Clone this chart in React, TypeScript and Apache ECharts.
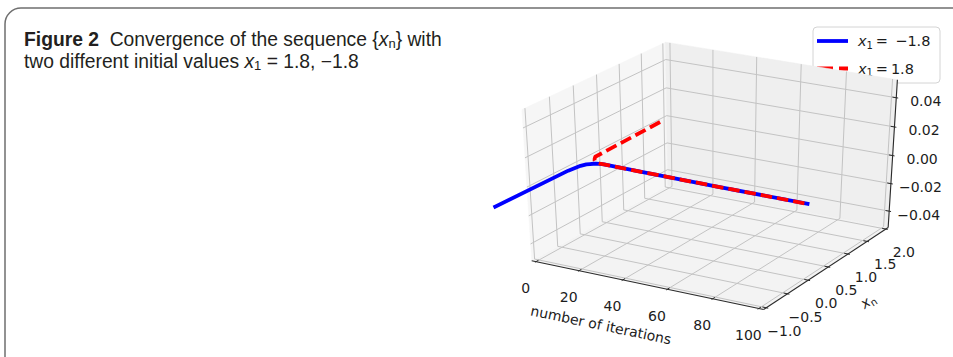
import React, { useEffect, useRef } from 'react';
import * as echarts from 'echarts';

// ---------------- data ----------------
const BLUE_ITER = [0, 1, 2, 3, 4, 5, 6, 7, 9, 30, 60, 100];
const BLUE_VALUES = [-1.8, -0.33, -0.11, -0.03, 0.0, 0.03, 0.05, 0.063, 0.07, 0.057, 0.047, 0.04];
const RED_ITER = [0, 1, 2, 3, 4, 5, 6, 7, 9, 30, 60, 100];
const RED_VALUES = [1.8, 0.26, 0.2, 0.15, 0.115, 0.092, 0.08, 0.074, 0.07, 0.057, 0.047, 0.04];

const X_TICKS = [0, 20, 40, 60, 80, 100];
const X_TICK_LABELS = ['0', '20', '40', '60', '80', '100'];
const Y_TICKS = [-1, -0.5, 0, 0.5, 1, 1.5, 2];
const Y_TICK_LABELS = ['\u22121.0', '\u22120.5', '0.0', '0.5', '1.0', '1.5', '2.0'];
const Z_TICKS = [-0.04, -0.02, 0, 0.02, 0.04];
const Z_TICK_LABELS = ['\u22120.04', '\u22120.02', '0.00', '0.02', '0.04'];

const X_LIM = [0, 100];
const Y_LIM = [-1, 2];
const Z_LIM = [-0.05, 0.05];

const SERIES_NAMES = ['x1 = \u22121.8', 'x1 = 1.8'];

// ---------------- 3D view (matplotlib-like perspective) ----------------
const ELEV = 30;
const AZIM = -60;
const DIST = 10;
const er = (ELEV * Math.PI) / 180;
const ar = (AZIM * Math.PI) / 180;
const W = [Math.cos(er) * Math.cos(ar), Math.cos(er) * Math.sin(ar), Math.sin(er)];
const wn = Math.hypot(W[0], W[1]);
const U = [-W[1] / wn, W[0] / wn, 0];
const V = [
  W[1] * U[2] - W[2] * U[1],
  W[2] * U[0] - W[0] * U[2],
  W[0] * U[1] - W[1] * U[0],
];
const dot = (a: number[], b: number[]) => a[0] * b[0] + a[1] * b[1] + a[2] * b[2];

function project(x: number, y: number, z: number): [number, number] {
  const q = [
    (x - X_LIM[0]) / (X_LIM[1] - X_LIM[0]) - 0.5,
    (y - Y_LIM[0]) / (Y_LIM[1] - Y_LIM[0]) - 0.5,
    (z - Z_LIM[0]) / (Z_LIM[1] - Z_LIM[0]) - 0.5,
  ];
  const d = DIST - dot(W, q);
  return [dot(U, q) / d, dot(V, q) / d];
}

// visible window of the projected plane
const VIEW_X = [-0.277354, 0.093463];
const VIEW_Y = [-0.112326, 0.103384];

const padOf = (lim: number[]) => (lim[1] - lim[0]) / 48;
const XP0 = X_LIM[0] - padOf(X_LIM);
const XP1 = X_LIM[1] + padOf(X_LIM);
const YP0 = Y_LIM[0] - padOf(Y_LIM);
const YP1 = Y_LIM[1] + padOf(Y_LIM);
const ZP0 = Z_LIM[0] - padOf(Z_LIM);
const ZP1 = Z_LIM[1] + padOf(Z_LIM);

const TICK_FONT = '14px "DejaVu Sans"';
const TEXT_COLOR = '#1c1c1c';
const GRID_COLOR = '#c3c3c3';
const AXIS_COLOR = '#2b2b2b';

function renderBox(_params: any, api: any) {
  const P = (x: number, y: number, z: number) => api.coord(project(x, y, z));
  const children: any[] = [];
  const poly = (pts: number[][], fill: string) => ({
    type: 'polygon',
    shape: { points: pts },
    style: { fill, stroke: fill, lineWidth: 0.5 },
    silent: true,
  });
  const pline = (pts: number[][], stroke: string, lw: number) => ({
    type: 'polyline',
    shape: { points: pts },
    style: { stroke, lineWidth: lw, fill: null },
    silent: true,
  });
  const label = (pt: number[], str: string, dx: number, dy: number) => ({
    type: 'text',
    x: pt[0] + dx,
    y: pt[1] + dy,
    style: {
      text: str,
      fill: TEXT_COLOR,
      font: TICK_FONT,
      align: 'center',
      verticalAlign: 'middle',
      textAlign: 'center',
      textVerticalAlign: 'middle',
    },
    silent: true,
  });

  // panes
  children.push(poly([P(XP0, YP0, ZP0), P(XP1, YP0, ZP0), P(XP1, YP1, ZP0), P(XP0, YP1, ZP0)], '#f3f3f3'));
  children.push(poly([P(XP0, YP0, ZP0), P(XP0, YP1, ZP0), P(XP0, YP1, ZP1), P(XP0, YP0, ZP1)], '#f6f6f6'));
  children.push(poly([P(XP0, YP1, ZP0), P(XP1, YP1, ZP0), P(XP1, YP1, ZP1), P(XP0, YP1, ZP1)], '#efefef'));

  // grid
  X_TICKS.forEach((t) => children.push(pline([P(t, YP0, ZP0), P(t, YP1, ZP0), P(t, YP1, ZP1)], GRID_COLOR, 1)));
  Y_TICKS.forEach((t) => children.push(pline([P(XP0, t, ZP1), P(XP0, t, ZP0), P(XP1, t, ZP0)], GRID_COLOR, 1)));
  Z_TICKS.forEach((t) => children.push(pline([P(XP1, YP1, t), P(XP0, YP1, t), P(XP0, YP0, t)], GRID_COLOR, 1)));

  // axis lines
  children.push(pline([P(XP0, YP0, ZP0), P(XP1, YP0, ZP0)], AXIS_COLOR, 1.1));
  children.push(pline([P(XP1, YP0, ZP0), P(XP1, YP1, ZP0)], AXIS_COLOR, 1.1));
  children.push(pline([P(XP1, YP1, ZP0), P(XP1, YP1, ZP1)], AXIS_COLOR, 1.1));

  // ticks
  const dy = (Y_LIM[1] - Y_LIM[0]) / 12;
  const dx = (X_LIM[1] - X_LIM[0]) / 12;
  X_TICKS.forEach((t) => children.push(pline([P(t, YP0 + 0.2 * dy, ZP0), P(t, YP0 - 0.1 * dy, ZP0)], AXIS_COLOR, 1)));
  Y_TICKS.forEach((t) => children.push(pline([P(XP1 - 0.2 * dx, t, ZP0), P(XP1 + 0.1 * dx, t, ZP0)], AXIS_COLOR, 1)));
  Z_TICKS.forEach((t) => children.push(pline([P(XP1 - 0.2 * dx, YP1, t), P(XP1 + 0.1 * dx, YP1, t)], AXIS_COLOR, 1)));

  // tick labels
  X_TICKS.forEach((t, i) => children.push(label(P(t, YP0, ZP0), X_TICK_LABELS[i], -10.4, 26.6)));
  Y_TICKS.forEach((t, i) => children.push(label(P(XP1, t, ZP0), Y_TICK_LABELS[i], 18, 22.8)));
  Z_TICKS.forEach((t, i) => children.push(label(P(XP1, YP1, t), Z_TICK_LABELS[i], 29.5, 3.5)));

  return { type: 'group', children };
}

const CAP_FONT = 'Liberation Sans';
const CAP_SIZE = 19.3;
const CAP_COLOR = '#231f20';
const CAP_LH = 19;
const MATH_FONT = 'DejaVu Sans';

function buildOption(): any {
  const blueData = BLUE_ITER.map((n, i) => project(n, BLUE_VALUES[i], 0));
  const redData = RED_ITER.map((n, i) => project(n, RED_VALUES[i], 0));

  const capRich = {
    b: { fontFamily: CAP_FONT, fontSize: CAP_SIZE, fontWeight: 'bold', fill: CAP_COLOR, lineHeight: CAP_LH },
    i: { fontFamily: CAP_FONT, fontSize: CAP_SIZE, fontStyle: 'italic', fill: CAP_COLOR, lineHeight: CAP_LH },
    s: { fontFamily: CAP_FONT, fontSize: 13, fill: CAP_COLOR, lineHeight: 11, padding: [8, 0, 0, 0] },
  };
  const legRich = {
    i: { fontFamily: MATH_FONT, fontSize: 14.5, fontStyle: 'italic', fill: TEXT_COLOR, lineHeight: 18 },
    s: { fontFamily: MATH_FONT, fontSize: 10, fill: TEXT_COLOR, lineHeight: 10, padding: [8, 0, 0, 0] },
  };
  const capStyle = (text: string) => ({
    text,
    rich: capRich,
    fontFamily: CAP_FONT,
    fontSize: CAP_SIZE,
    fill: CAP_COLOR,
    lineHeight: CAP_LH,
    verticalAlign: 'middle',
    textVerticalAlign: 'middle',
  });
  const legStyle = (text: string) => ({
    text,
    rich: legRich,
    fontFamily: MATH_FONT,
    fontSize: 14.5,
    fill: TEXT_COLOR,
    lineHeight: 18,
    verticalAlign: 'middle',
    textVerticalAlign: 'middle',
  });

  return {
    animation: false,
    backgroundColor: '#ffffff',
    grid: { left: 0, top: 0, width: 953, height: 357, containLabel: false },
    xAxis: { type: 'value', min: VIEW_X[0], max: VIEW_X[1], show: false },
    yAxis: { type: 'value', min: VIEW_Y[0], max: VIEW_Y[1], show: false },
    series: [
      {
        type: 'custom',
        name: 'axes3d',
        coordinateSystem: 'cartesian2d',
        data: [[0, 0]],
        renderItem: renderBox,
        clip: false,
        silent: true,
        z: 1,
      },
      {
        type: 'line',
        name: SERIES_NAMES[0],
        data: blueData,
        showSymbol: false,
        symbol: 'none',
        smooth: false,
        clip: false,
        z: 3,
        lineStyle: { color: '#0000ff', width: 3.8, cap: 'square', join: 'round' },
      },
      {
        type: 'line',
        name: SERIES_NAMES[1],
        data: redData,
        showSymbol: false,
        symbol: 'none',
        smooth: false,
        clip: false,
        z: 4,
        lineStyle: { color: '#ff0000', width: 3.8, type: [11.5, 5], cap: 'butt', join: 'round' },
      },
    ],
    graphic: [
      {
        type: 'rect',
        shape: { x: 5, y: 8, width: 1000, height: 420, r: 16 },
        style: { fill: 'none', stroke: '#6f6f6f', lineWidth: 1.5 },
        silent: true,
        z: 0,
      },
      {
        type: 'text',
        x: 24,
        y: 39.3,
        style: capStyle('{b|Figure 2}  Convergence of the sequence {{i|x}{s|n}} with'),
      },
      {
        type: 'text',
        x: 24,
        y: 61.2,
        style: capStyle('two different initial values {i|x}{s|1} = 1.8, \u22121.8'),
      },
      // axis titles
      {
        type: 'text',
        x: 601,
        y: 325,
        rotation: -0.206,
        style: {
          text: 'number of iterations',
          font: TICK_FONT,
          fill: TEXT_COLOR,
          align: 'center',
          verticalAlign: 'middle',
          textAlign: 'center',
          textVerticalAlign: 'middle',
        },
      },
      {
        type: 'text',
        x: 868,
        y: 301,
        rotation: 0.58,
        style: {
          text: '{i|x}{s|n}',
          rich: legRich,
          font: TICK_FONT,
          fill: TEXT_COLOR,
          align: 'center',
          verticalAlign: 'middle',
          textAlign: 'center',
          textVerticalAlign: 'middle',
        },
      },
      // legend
      {
        type: 'group',
        z: 10,
        children: [
          {
            type: 'rect',
            shape: { x: 813, y: 27, width: 127, height: 56, r: 4 },
            style: { fill: 'rgba(255,255,255,0.85)', stroke: '#d4d4d4', lineWidth: 1 },
          },
          {
            type: 'line',
            shape: { x1: 817, y1: 41, x2: 848, y2: 41 },
            style: { stroke: '#0000ff', lineWidth: 3.8 },
          },
          {
            type: 'line',
            shape: { x1: 817, y1: 68.5, x2: 848, y2: 68.5 },
            style: { stroke: '#ff0000', lineWidth: 3.8, lineDash: [16, 6] },
          },
          {
            type: 'text',
            x: 858,
            y: 41,
            style: legStyle('{i|x}{s|1}\u2009=\u2002\u22121.8'),
          },
          {
            type: 'text',
            x: 858,
            y: 68.5,
            style: legStyle('{i|x}{s|1}\u2009=\u20091.8'),
          },
        ],
      },
    ],
  };
}

export default function App() {
  const ref = useRef<HTMLDivElement>(null);
  useEffect(() => {
    if (!ref.current) return;
    const chart = echarts.init(ref.current, undefined, { renderer: 'svg' });
    chart.setOption(buildOption());
    return () => chart.dispose();
  }, []);
  return (
    <div
      ref={ref}
      style={{ position: 'fixed', left: 0, top: 0, width: 953, height: 357, background: '#ffffff' }}
    />
  );
}
